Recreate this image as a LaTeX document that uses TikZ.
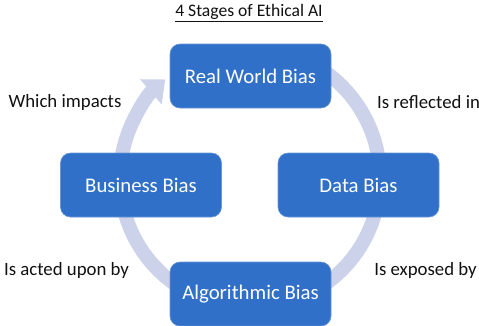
\documentclass[tikz,border=0pt]{standalone}
\usepackage{fontspec}
\setmainfont{Carlito}
\usepackage{tikz}
\usetikzlibrary{arrows.meta, positioning}
\definecolor{stageBlue}{HTML}{3070C8}
\definecolor{stageEdge}{HTML}{6A96D8}
\definecolor{ringGray}{HTML}{CBD2E9}
\definecolor{textDark}{HTML}{111111}
\tikzset{
  stageBox/.style={rectangle, rounded corners=10pt, draw=stageEdge, line width=0.6pt,
                   fill=stageBlue, text=white, align=center, font=\fontsize{20.8}{25}\selectfont,
                   minimum width=161pt, minimum height=64pt, inner sep=0pt},
  stepLabel/.style={text=textDark, font=\fontsize{18.8}{23}\selectfont, inner sep=0pt},
  ringArrow/.style={-{Triangle[length=19pt, width=32pt]}, ringGray, line width=14pt},
}
\begin{document}
\begin{tikzpicture}[x=1pt, y=-1pt]
    \useasboundingbox (0,0) rectangle (479,325);
    \coordinate (hub) at (250,178);
    % ring behind the four stages
    \draw[ringArrow] (hub) ++(70:130pt) arc[start angle=70, end angle=-229.3, radius=130pt];
    \node[font=\fontsize{17.6}{21}\selectfont, text=textDark] (title) at (249,13) {\underline{4 Stages of Ethical AI}};
    \node[stageBox] (rw) at (250.5,76) {Real World Bias};
    \node[stageBox] (data) at (358.5,185) {Data Bias};
    \node[stageBox] (algo) at (250.5,294) {Algorithmic Bias};
    \node[stageBox] (biz) at (141,185) {Business Bias};
    \node[stepLabel] (l1) at (428.5,102) {Is reflected in};
    \node[stepLabel] (l2) at (425.5,270) {Is exposed by};
    \node[stepLabel] (l3) at (66.5,270) {Is acted upon by};
    \node[stepLabel] (l4) at (65,102) {Which impacts};
\end{tikzpicture}
\end{document}
